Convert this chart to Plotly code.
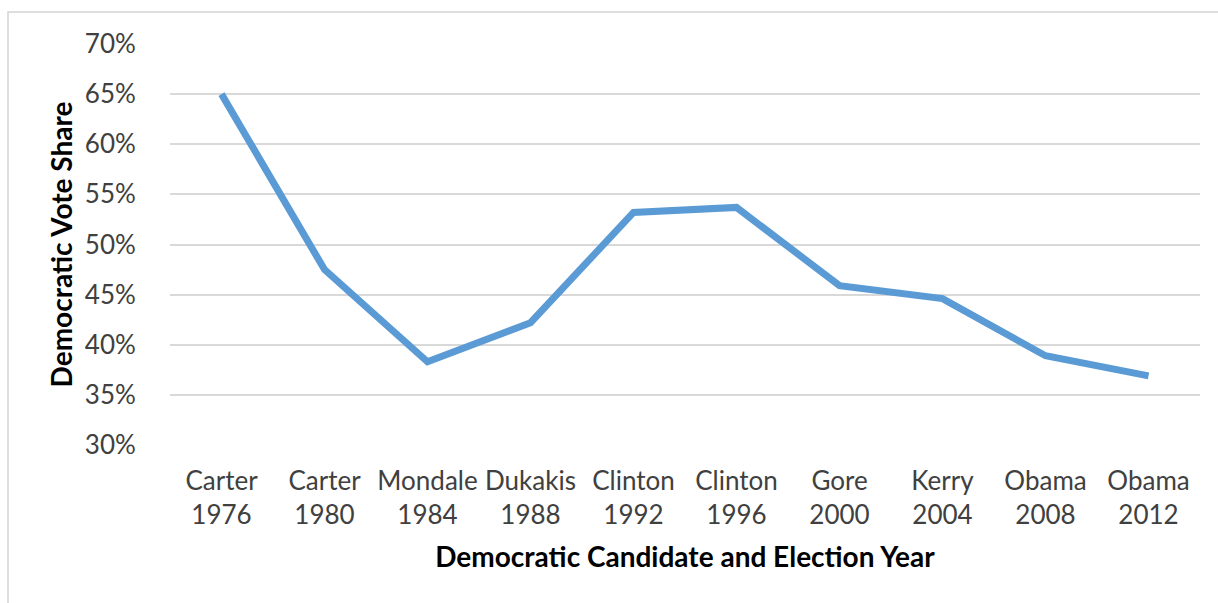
import plotly.graph_objects as go

candidates = ["Carter", "Carter", "Mondale", "Dukakis", "Clinton", "Clinton",
              "Gore", "Kerry", "Obama", "Obama"]
years = ["1976", "1980", "1984", "1988", "1992", "1996", "2000", "2004", "2008", "2012"]
vote_share = [0.650, 0.475, 0.383, 0.422, 0.532, 0.537, 0.459, 0.446, 0.389, 0.369]

labels = [f"{c}<br>{y}" for c, y in zip(candidates, years)]
y_ticks = [0.30, 0.35, 0.40, 0.45, 0.50, 0.55, 0.60, 0.65, 0.70]

W, H = 1218, 603
L, R, T, B = 170, 18, 44, 158
pw, ph = W - L - R, H - T - B

def px_x(p):
    return (p - L) / pw

def px_y(p):
    return (H - B - p) / ph

fig = go.Figure()
fig.add_trace(go.Scatter(
    x=list(range(len(labels))), y=vote_share, mode="lines",
    line=dict(color="#5B9BD5", width=7, shape="linear"),
    hoverinfo="skip", showlegend=False,
))

font_family = "Lato, Carlito, Calibri, sans-serif"

fig.update_layout(
    width=W, height=H,
    margin=dict(l=L, r=R, t=T, b=B),
    paper_bgcolor="white", plot_bgcolor="white",
    font=dict(family=font_family, color="#404040"),
    xaxis=dict(
        range=[-0.5, len(labels) - 0.5],
        tickmode="array", tickvals=list(range(len(labels))), ticktext=labels,
        tickfont=dict(size=26, color="#404040"),
        showgrid=False, zeroline=False, showline=False,
        ticks="outside", ticklen=13, tickcolor="rgba(0,0,0,0)",
        title=dict(text="<b>Democratic Candidate and Election Year</b>",
                   font=dict(size=28, color="#000000"), standoff=18),
        fixedrange=True,
    ),
    yaxis=dict(
        range=[0.30, 0.70],
        tickmode="array", tickvals=y_ticks,
        ticktext=[f"{round(v*100)}%" for v in y_ticks],
        tickfont=dict(size=26, color="#404040"),
        showgrid=True, gridcolor="#d9d9d9", gridwidth=1.5,
        zeroline=False, showline=False,
        ticks="outside", ticklen=28, tickcolor="rgba(0,0,0,0)",
        title=dict(text="<b>Democratic Vote Share</b>",
                   font=dict(size=28, color="#000000"), standoff=3),
        fixedrange=True,
    ),
    shapes=[dict(
        type="rect", xref="paper", yref="paper",
        x0=px_x(8), x1=px_x(1240), y0=px_y(640), y1=px_y(12),
        line=dict(color="#d4d4d4", width=1.5), fillcolor="rgba(0,0,0,0)",
        layer="below",
    )],
)

fig.write_html("out.html")
